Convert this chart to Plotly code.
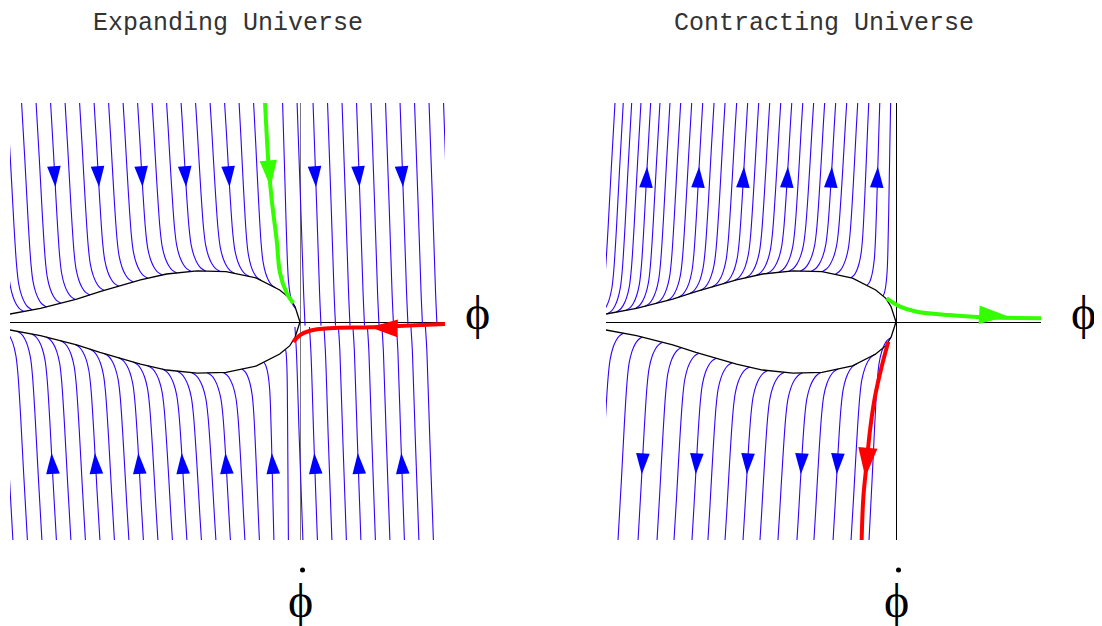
import numpy as np
import plotly.graph_objects as go

# edge of the forbidden region (upper half, lower half is its mirror)
bound_phi = [-2.2, -2.0, -1.79, -1.54, -1.38, -1.10, -0.92, -0.71, -0.51, -0.30, -0.14, -0.07, -0.034, 0.0]
bound_dphi = [0.04, 0.055, 0.094, 0.157, 0.209, 0.29, 0.331, 0.352, 0.347, 0.303, 0.221, 0.163, 0.105, 0.0]

# shape of one flow line: sideways drift vs height above the point where it meets the edge
shape_h = [0, 0.02, 0.05, 0.1, 0.18, 0.3, 0.6, 1.0, 1.6]
shape_dx = [0, 0.03, 0.052, 0.074, 0.094, 0.108, 0.128, 0.15, 0.185]

TOP, BOTTOM = 1.51, -1.503

# expanding universe, upper half: phi at the top edge -> phi where it meets the edge
exp_up_start = [-2.08, -2.02, -1.92, -1.82, -1.72, -1.62, -1.52, -1.42, -1.32, -1.22,
                -1.12, -1.02, -0.92, -0.82, -0.72, -0.62, -0.52, -0.42, -0.32, -0.12]
exp_up_end = [-1.905, -1.847, -1.75, -1.65, -1.55, -1.45, -1.35, -1.25, -1.15, -1.05,
              -0.95, -0.85, -0.75, -0.65, -0.55, -0.45, -0.35, -0.27, -0.17, -0.03]
exp_up_arrows = [4, 7, 10, 13, 16]

# expanding, lower half
exp_dn_start = [-1.98, -1.88, -1.78, -1.68, -1.58, -1.48, -1.38, -1.28, -1.18, -1.08,
                -0.98, -0.88, -0.78, -0.68, -0.58, -0.48, -0.38, -0.28, -0.18, -0.08]
exp_dn_end = [-2.15, -2.05, -1.95, -1.85, -1.75, -1.65, -1.55, -1.45, -1.35, -1.25,
              -1.15, -1.05, -0.95, -0.85, -0.75, -0.64, -0.53, -0.40, -0.25, -0.10]
exp_dn_arrows = [3, 6, 9, 12, 15, 18]

# expanding, right of the phi-dot axis (lines run down / up to the phi axis)
exp_right_top = [-0.02, 0.09, 0.19, 0.29, 0.39, 0.49, 0.59, 0.69, 0.79, 0.89, 0.99]
exp_right_bot = [0.02, 0.12, 0.22, 0.32, 0.42, 0.52, 0.62, 0.72, 0.82, 0.92]
right_top_dphi = [1.51, 0.8, 0.2, -0.025]
right_top_dx = [0, 0.025, 0.045, 0.055]
right_bot_dphi = [-1.503, -0.8, -0.2, -0.035]
right_bot_dx = [0, -0.025, -0.045, -0.055]
exp_right_top_arrows = [1, 4, 7]
exp_right_bot_arrows = [1, 4, 7]

# contracting universe, upper half
con_up_start = [-1.938, -1.881, -1.823, -1.759, -1.692, -1.628, -1.559, -1.485, -1.409,
                -1.333, -1.255, -1.179, -1.099, -1.023, -0.947, -0.871, -0.795, -0.719,
                -0.643, -0.568, -0.492, -0.416, -0.340, -0.264, -0.188, -0.112, -0.037]
con_up_end = [-2.11, -2.05, -1.99, -1.93, -1.86, -1.80, -1.73, -1.655, -1.58,
              -1.50, -1.425, -1.35, -1.27, -1.19, -1.115, -1.04, -0.965, -0.89,
              -0.81, -0.74, -0.66, -0.585, -0.51, -0.42, -0.31, -0.20, -0.09]
con_up_arrows = [4, 9, 13, 17, 21, 25]

# contracting, lower half
con_dn_start = [-2.18, -2.05, -1.917, -1.779, -1.648, -1.531, -1.407, -1.297, -1.179,
                -1.055, -0.938, -0.814, -0.683, -0.566, -0.434, -0.310, -0.186]
con_dn_end = [-2.01, -1.88, -1.75, -1.61, -1.48, -1.36, -1.24, -1.13, -1.01,
              -0.885, -0.77, -0.645, -0.515, -0.40, -0.27, -0.14, -0.035]
con_dn_arrows = [3, 6, 9, 12, 14]

# highlighted trajectories
exp_green_phi = [-0.241, -0.218, -0.195, -0.161, -0.138, -0.092, -0.046]
exp_green_dphi = [1.51, 1.097, 0.841, 0.566, 0.338, 0.2, 0.129]
exp_red_phi = [1.0, 0.678, 0.483, 0.207, 0.069, 0.0, -0.046]
exp_red_dphi = [-0.014, -0.028, -0.037, -0.043, -0.06, -0.09, -0.136]
con_green_phi = [-0.064, 0.028, 0.143, 0.372, 0.60, 1.0]
con_green_dphi = [0.163, 0.106, 0.071, 0.048, 0.032, 0.026]
con_red_phi = [-0.053, -0.099, -0.145, -0.179, -0.202, -0.225, -0.237]
con_red_dphi = [-0.136, -0.308, -0.515, -0.745, -0.972, -1.205, -1.503]

BLUE = '#3300ff'
ARROW = '#0000ff'
GREEN = '#33ff00'
RED = '#ff0000'

W, H, OFF = 1102, 626, 8   # page body adds an 8px margin


def px(x):
    return (x - OFF) / W


def py(y):
    return 1 - (y - OFF) / H


def streamline(start, end, edge):
    side = 1 if edge > 0 else -1
    y_end = side * np.interp(end, bound_phi, bound_dphi)
    h_total = abs(edge - y_end)
    scale = (start - end) / np.interp(h_total, shape_h, shape_dx)
    hs = [h for h in shape_h if h < h_total] + [h_total]
    xs = [end + scale * np.interp(h, shape_h, shape_dx) for h in hs]
    ys = [y_end + side * h for h in hs]
    return xs, ys


def joined(lines):
    xs, ys = [], []
    for lx, ly in lines:
        xs += list(lx) + [None]
        ys += list(ly) + [None]
    return xs, ys


def tips(lines, idx, dphi):
    out = []
    for i in idx:
        lx, ly = lines[i]
        order = np.argsort(ly)
        out.append(float(np.interp(dphi, np.array(ly)[order], np.array(lx)[order])))
    return out


fig = go.Figure()


def add_line(xs, ys, n, color, width, shape='spline'):
    fig.add_trace(go.Scatter(x=xs, y=ys, mode='lines', xaxis='x' + n, yaxis='y' + n,
                             line=dict(color=color, width=width, shape=shape),
                             hoverinfo='skip', showlegend=False))


def add_arrows(xs, ys, n, color, size, angle):
    fig.add_trace(go.Scatter(x=xs, y=ys, mode='markers', xaxis='x' + n, yaxis='y' + n,
                             marker=dict(symbol='arrow', size=size, angle=angle, color=color,
                                         line=dict(width=0)),
                             hoverinfo='skip', showlegend=False))


# ---- expanding panel ----
eu = [streamline(s, e, TOP) for s, e in zip(exp_up_start, exp_up_end)]
ed = [streamline(s, e, BOTTOM) for s, e in zip(exp_dn_start, exp_dn_end)]
ert = [([p + d for d in right_top_dx], right_top_dphi) for p in exp_right_top]
erb = [([p + d for d in right_bot_dx], right_bot_dphi) for p in exp_right_bot]
for fam in (eu, ed, ert, erb):
    add_line(*joined(fam), '', BLUE, 1.1)

# ---- contracting panel ----
cu = [streamline(s, e, TOP) for s, e in zip(con_up_start, con_up_end)]
cd = [streamline(s, e, BOTTOM) for s, e in zip(con_dn_start, con_dn_end)]
for fam in (cu, cd):
    add_line(*joined(fam), '2', BLUE, 1.1)

# forbidden-region edge
bx = bound_phi + [None] + bound_phi
by = bound_dphi + [None] + [-v for v in bound_dphi]
add_line(bx, by, '', 'black', 1.3, 'linear')
add_line(bx, by, '2', 'black', 1.3, 'linear')

# special trajectories
add_line(exp_green_phi, exp_green_dphi, '', GREEN, 4)
add_line(exp_red_phi, exp_red_dphi, '', RED, 4)
add_line(con_green_phi, con_green_dphi, '2', GREEN, 4)
add_line(con_red_phi, con_red_dphi, '2', RED, 4)

# direction arrows
up_tip, dn_tip = 0.93, -0.903
ax_ = tips(eu, exp_up_arrows, up_tip) + tips(ert, exp_right_top_arrows, up_tip)
add_arrows(ax_, [up_tip] * len(ax_), '', ARROW, 22, 176)
ax_ = tips(ed, exp_dn_arrows, dn_tip) + tips(erb, exp_right_bot_arrows, dn_tip)
add_arrows(ax_, [dn_tip] * len(ax_), '', ARROW, 22, -4)
cu_tip, cd_tip = 1.07, -1.05
ax_ = tips(cu, con_up_arrows, cu_tip)
add_arrows(ax_, [cu_tip] * len(ax_), '2', ARROW, 22, 3)
ax_ = tips(cd, con_dn_arrows, cd_tip)
add_arrows(ax_, [cd_tip] * len(ax_), '2', ARROW, 22, 183)

add_arrows([float(np.interp(0.93, exp_green_dphi[::-1], exp_green_phi[::-1]))], [0.93], '', GREEN, 28, 175)
add_arrows([0.483], [-0.037], '', RED, 29, -88)
add_arrows([0.77], [0.04], '2', GREEN, 30, 93)
add_arrows([float(np.interp(-1.07, con_red_dphi[::-1], con_red_phi[::-1]))], [-1.07], '2', RED, 31, 185)

axis_style = dict(showgrid=False, zeroline=True, zerolinewidth=1,
                  showticklabels=False, ticks='', showline=False, fixedrange=True)

fig.update_layout(
    width=W, height=H,
    margin=dict(l=0, r=0, t=0, b=0),
    paper_bgcolor='white', plot_bgcolor='white',
    hovermode=False,
    xaxis=dict(domain=[px(10), px(445)], range=[-2, 1], anchor='y', zerolinecolor='#777', **axis_style),
    yaxis=dict(domain=[py(540), py(103)], range=[BOTTOM, TOP], anchor='x', zerolinecolor='black', **axis_style),
    xaxis2=dict(domain=[px(606), px(1041)], range=[-2, 1], anchor='y2', zerolinecolor='black', **axis_style),
    yaxis2=dict(domain=[py(540), py(103)], range=[BOTTOM, TOP], anchor='x2', zerolinecolor='black', **axis_style),
)

title_font = dict(family='Liberation Mono, Courier New, monospace', size=25, color='#333')
label_font = dict(family='Liberation Serif, Times New Roman, serif', size=48, color='black')
for x, txt in [(227.5, 'Expanding Universe'), (823.5, 'Contracting Universe')]:
    fig.add_annotation(x=px(x), y=1, xref='paper', yref='paper', text=txt, borderpad=0,
                       showarrow=False, font=title_font, xanchor='center', yanchor='top')
for x in (477, 1083):
    fig.add_annotation(x=px(x), y=py(312), xref='paper', yref='paper', text='\u03d5',
                       showarrow=False, font=label_font, xanchor='center', yanchor='middle')
for x in (300.5, 896.5):
    fig.add_annotation(x=px(x), y=py(600), xref='paper', yref='paper', text='\u03d5',
                       showarrow=False, font=label_font, xanchor='center', yanchor='middle')
    fig.add_shape(type='circle', xref='paper', yref='paper', fillcolor='black', line=dict(width=0),
                  x0=px(x - 0.5), x1=px(x + 4.5), y0=py(572.5), y1=py(567.5))

fig.write_html("out.html")
